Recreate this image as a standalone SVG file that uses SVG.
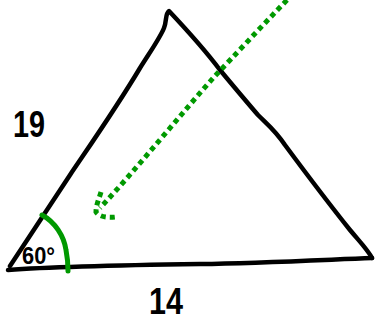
<svg xmlns="http://www.w3.org/2000/svg" width="375" height="323" viewBox="0 0 375 323">
<style>
.ink{fill:none;stroke:#000;stroke-width:4.5;stroke-linecap:round;stroke-linejoin:round}
.grn{fill:none;stroke:#009900}
.dot{stroke-width:5;stroke-dasharray:5 4;stroke-linecap:butt}
.lbl{font-family:"Liberation Sans",Arial,sans-serif;font-weight:bold;fill:#000}
</style>
<rect width="375" height="323" fill="#fff"/>
<g id="triangle">
<path class="ink" d="M10,266 C30,236 50,205 70,175 C95,138 118,105 140,68 C150,52 160,38 164,28 C167,20 165,14 169,11 C185,28 205,50 220,70 C235,88 245,100 258,115 C268,125 275,130 285,145 C305,172 330,205 350,230 C360,242 368,250 372,258"/>
<path class="ink" d="M8,270 C60,266 130,265 200,264 C260,263 320,260 372,258"/>
</g>
<g id="angle">
<path class="grn" stroke-width="5" stroke-linecap="round" d="M42,215 C55,222 64,236 66,250 C68,260 68,266 68,271"/>
</g>
<g id="arrow">
<path class="grn dot" d="M287,0 C260,28 235,55 215,76 C180,115 140,165 100,208"/>
<path class="grn dot" d="M101,192 C99,199 96,205 96,212 C99,217 108,218 116,217"/>
</g>
<g id="labels">
<text class="lbl" x="13" y="137" font-size="36" textLength="32" lengthAdjust="spacingAndGlyphs">19</text>
<text class="lbl" x="149" y="314" font-size="36" textLength="34" lengthAdjust="spacingAndGlyphs">14</text>
<text class="lbl" x="22" y="264" font-size="24" textLength="33" lengthAdjust="spacingAndGlyphs">60°</text>
</g>
</svg>
